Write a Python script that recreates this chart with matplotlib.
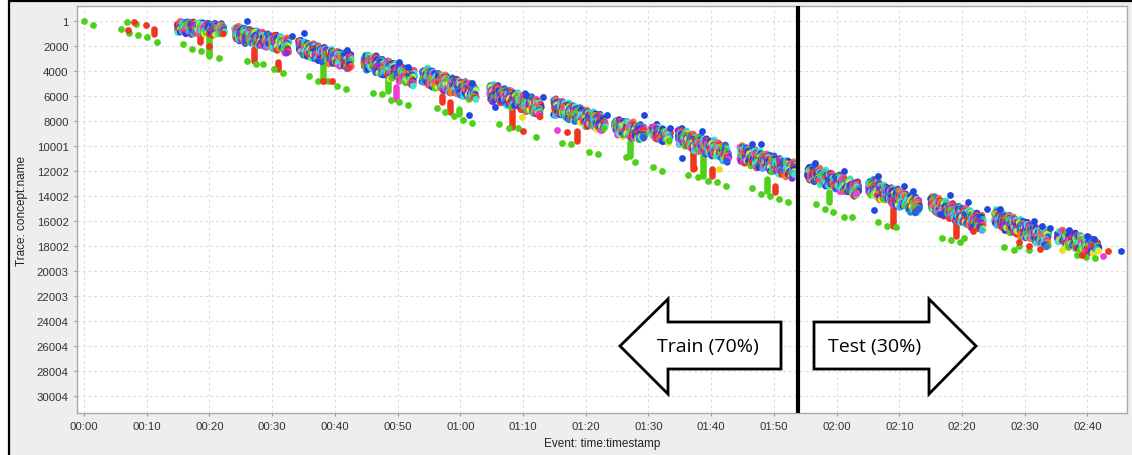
import matplotlib
matplotlib.use("Agg")
import matplotlib.pyplot as plt
from matplotlib.patches import Polygon, Rectangle

# dotted chart of the event log: event time (minutes) against trace index
X_TICKS = [0, 10, 20, 30, 40, 50, 60, 70, 80, 90, 100, 110, 120, 130, 140, 150, 160]
X_LABELS = ["00:00", "00:10", "00:20", "00:30", "00:40", "00:50", "01:00", "01:10", "01:20",
            "01:30", "01:40", "01:50", "02:00", "02:10", "02:20", "02:30", "02:40"]
Y_TICKS = [1, 2000, 4000, 6000, 8000, 10001, 12002, 14002, 16002, 18002,
           20003, 22003, 24004, 26004, 28004, 30004]
Y_LABELS = [str(v) for v in Y_TICKS]

# dense batches of traces: start/end time, trace at top-left / top-right, depth
BATCH_T0 = [15.0, 24.2, 34.4, 44.7, 54.1, 64.8, 75.1, 84.7, 90.6, 94.9, 104.8, 115.5, 125.2, 135.2, 145.3, 155.3]
BATCH_T1 = [22.2, 32.5, 42.4, 52.5, 62.4, 72.7, 82.9, 89.3, 93.3, 102.6, 113.2, 123.3, 133.0, 143.2, 153.6, 161.6]
BATCH_TOP_L = [80, 480, 1600, 2640, 3840, 5120, 6320, 7840, 8320, 8720, 10080, 11600, 12720, 14080, 15200, 16720]
BATCH_TOP_R = [320, 1440, 2800, 4000, 5200, 6400, 7680, 8480, 8880, 10080, 11440, 12960, 14240, 15600, 16880, 17600]
BATCH_DEPTH = [800, 1040, 1040, 1120, 1120, 1120, 1120, 1120, 960, 1120, 1120, 1040, 1120, 1120, 1120, 1040]

# columns of repeated events hanging below a batch
DRIP_T = [11.2, 18.5, 19.9, 27.1, 30.9, 38.1, 48.5, 49.8, 57.1, 58.4, 59.8,
          68.3, 78.6, 87.1, 97.1, 98.7, 100.2, 108.9, 110.2, 118.8, 129.0, 139.1]
DRIP_Y0 = [640, 80, 880, 2240, 3280, 3200, 4640, 5280, 6000, 6480, 7040,
           7040, 8800, 9680, 10000, 10800, 11840, 12640, 13200, 13680, 15040, 16080]
DRIP_Y1 = [1040, 1680, 2800, 3200, 3840, 4800, 5600, 6240, 6480, 7280, 7440,
           8480, 9600, 10800, 11840, 12400, 12400, 13600, 13680, 14480, 16400, 17200]
DRIP_C = ["red", "red", "green", "red", "red", "green", "green", "magenta", "red", "red", "green",
          "red", "red", "green", "red", "green", "red", "green", "red", "green", "red", "red"]

# single stray events
GREEN_T = [0.0, 1.4, 5.9, 6.9, 7.2, 8.3, 8.6, 10.0, 11.6,
           15.8, 17.2, 18.7, 19.9, 21.5,
           26.0, 27.4, 28.5, 30.3, 31.7,
           35.9, 37.3, 38.9, 40.4, 41.8,
           46.1, 47.5, 49.0, 50.2, 51.7,
           56.3, 57.6, 59.0, 60.4, 61.9,
           66.2, 67.8, 69.2, 72.1,
           76.2, 77.7, 80.5, 82.0,
           86.4, 87.9, 90.7, 92.2,
           96.3, 97.9, 99.5, 101.0, 102.4,
           106.5, 108.0, 109.4, 110.8, 112.3,
           116.7, 118.2, 119.5, 121.1, 122.5,
           126.6, 128.1, 129.5,
           136.8, 138.3, 139.6, 140.3,
           146.7, 148.3, 149.1, 150.6,
           158.4, 159.8, 161.2]
GREEN_Y = [0, 320, 640, 80, 960, 240, 1120, 1280, 1680,
           1840, 2240, 2400, 2640, 2960,
           3200, 3440, 3440, 3840, 4160,
           4400, 4800, 4800, 5200, 5440,
           5760, 5840, 6320, 6480, 6720,
           6960, 7280, 7600, 7920, 8160,
           8240, 8560, 8560, 9280,
           9760, 9840, 10480, 10640,
           10880, 11280, 11680, 12000,
           12320, 12480, 12800, 12880, 13200,
           13360, 13840, 14000, 14240, 14480,
           14640, 15040, 15280, 15680, 15680,
           16080, 16400, 16480,
           17360, 17520, 17680, 17360,
           18080, 18320, 18000, 18320,
           18720, 18880, 18960]
RED_T = [7.0, 8.0, 9.9, 19.9, 38.1, 39.6, 70.0, 77.0, 97.3, 141.8, 149.1, 150.6, 152.5, 159.2, 163.2]
RED_Y = [720, 80, 320, 2000, 4800, 4800, 8800, 8880, 11760, 16800, 17680, 18000, 18240, 18720, 18400]
BLUE_T = [26.0, 33.2, 35.1, 41.9, 50.2, 51.7, 61.9, 61.4, 65.6, 70.5, 73.2, 83.4, 89.3, 93.5,
          95.4, 98.6, 106.5, 108.0, 116.6, 121.1, 126.0, 126.6, 130.8, 132.2, 136.5, 138.1,
          141.0, 144.0, 146.1, 151.4, 152.8, 154.1, 157.0, 159.9, 161.1, 165.4]
BLUE_Y = [0, 1200, 960, 2320, 3280, 3680, 4960, 7520, 6880, 5920, 6080, 7520, 7520, 8560,
          10960, 8800, 9840, 9840, 11360, 12000, 15120, 12400, 13200, 13600, 15440, 13920,
          14480, 15040, 15040, 16000, 16400, 16560, 16720, 17200, 17440, 18400]
MAGENTA_T = [75.4, 162.4]
MAGENTA_Y = [8720, 18800]
YELLOW_T = [69.8, 101.3, 156.0]
YELLOW_Y = [7680, 11840, 18320]

SPLIT_T = 113.9

COLORS = {"red": "#f0361e", "green": "#4fd01a", "blue": "#2048e0",
          "magenta": "#f03cd0", "yellow": "#e8e020"}
PALETTE = ["#1f3fe6", "#3a7ad8", "#f0321e", "#4ccf16", "#3ce8c0", "#f03cd2",
           "#e8e628", "#8c28e6", "#f07a1e", "#3cb4f0", "#f04c80", "#1f3fe6",
           "#2a5fe0", "#f0321e", "#4ccf16", "#3ce8c0"]
DOT = 24


def mix(*ks):
    # integer hash used to vary activity colours inside a batch
    h = 2166136261
    for k in ks:
        h = ((h ^ (k & 0xFFFF)) * 16777619) & 0xFFFFFFFF
    return h


fig = plt.figure(figsize=(11.32, 4.56), dpi=100)
fig.patch.set_facecolor("white")
fig.patches.append(Rectangle((9 / 1132, -0.01), 1.01, 454 / 456 + 0.01, transform=fig.transFigure,
                             facecolor="#eeeeee", edgecolor="black", linewidth=1.6, zorder=-1))
ax = fig.add_axes([77 / 1132, 42 / 456, 1050 / 1132, 407 / 456])
ax.set_facecolor("white")

# batch bodies: one row of events per trace, colours per activity
xs, ys, cs = [], [], []
for b in range(len(BATCH_T0)):
    t0, t1 = BATCH_T0[b], BATCH_T1[b]
    ncol = int((t1 - t0) / 0.25) + 1
    step = 110
    nrow = int(BATCH_DEPTH[b] / step) + 1
    for i in range(ncol):
        u = i / (ncol - 1)
        top = BATCH_TOP_L[b] + u * (BATCH_TOP_R[b] - BATCH_TOP_L[b])
        h = mix(b, i, 7)
        j0 = (h % 4) - 1
        j1 = nrow + ((h >> 4) % 4) - 2
        for j in range(j0, j1):
            k = mix(b, i, j) % len(PALETTE)
            g = mix(i, j, b)
            xs.append(t0 + u * (t1 - t0) + ((g >> 8) % 7 - 3) * 0.07)
            ys.append(top + j * step + ((g >> 12) % 5 - 2) * 25)
            cs.append(PALETTE[k])
ax.scatter(xs, ys, s=DOT, c=cs, linewidths=0, zorder=3)

for t, y0, y1, c in zip(DRIP_T, DRIP_Y0, DRIP_Y1, DRIP_C):
    ax.plot([t, t], [y0, y1], color=COLORS[c], lw=4.7, solid_capstyle="round", zorder=2)

for tt, yy, c in [(GREEN_T, GREEN_Y, "green"), (RED_T, RED_Y, "red"), (BLUE_T, BLUE_Y, "blue"),
                  (MAGENTA_T, MAGENTA_Y, "magenta"), (YELLOW_T, YELLOW_Y, "yellow")]:
    ax.scatter(tt, yy, s=DOT, color=COLORS[c], linewidths=0, zorder=4)

ax.axvline(SPLIT_T, color="black", lw=3, zorder=5)

ax.set_xlim(-1.12, 166.3)
ax.set_ylim(31360, -1200)
ax.set_xticks(X_TICKS)
ax.set_xticklabels(X_LABELS)
ax.set_yticks(Y_TICKS)
ax.set_yticklabels(Y_LABELS)
ax.tick_params(length=2, color="#999999", labelsize=8.2, labelcolor="#333333", pad=4)
for lab in ax.get_xticklabels() + ax.get_yticklabels():
    lab.set_family("Liberation Sans")
ax.grid(True, color="#dddddd", lw=0.8, linestyle=(0, (2.5, 2.5)))
ax.set_axisbelow(True)
for sp in ax.spines.values():
    sp.set_color("#aaaaaa")
    sp.set_linewidth(1)
ax.set_xlabel("Event: time:timestamp", family="Liberation Sans", fontsize=8.5, color="#222222", labelpad=4)
ax.set_ylabel("Trace: concept:name", family="Liberation Sans", fontsize=8.5, color="#222222", labelpad=6)


def px(x, y):
    # pixel position in the figure to axes fraction
    return ((x - 77) / 1050, (414 - y) / 407)


train = [px(620, 347), px(668, 300), px(668, 323), px(781, 323), px(781, 370), px(668, 370), px(668, 395)]
test = [px(814, 323), px(929, 323), px(929, 300), px(976, 347), px(929, 395), px(929, 370), px(814, 370)]
for pts in (train, test):
    ax.add_patch(Polygon(pts, closed=True, transform=ax.transAxes, facecolor="white",
                         edgecolor="black", lw=2, joinstyle="miter", zorder=6))
ax.text(*px(708, 347), "Train (70%)", transform=ax.transAxes, ha="center", va="center",
        family="Open Sans", fontsize=14, zorder=7)
ax.text(*px(875, 347), "Test (30%)", transform=ax.transAxes, ha="center", va="center",
        family="Open Sans", fontsize=14, zorder=7)

fig.savefig("out.png", dpi=100)
